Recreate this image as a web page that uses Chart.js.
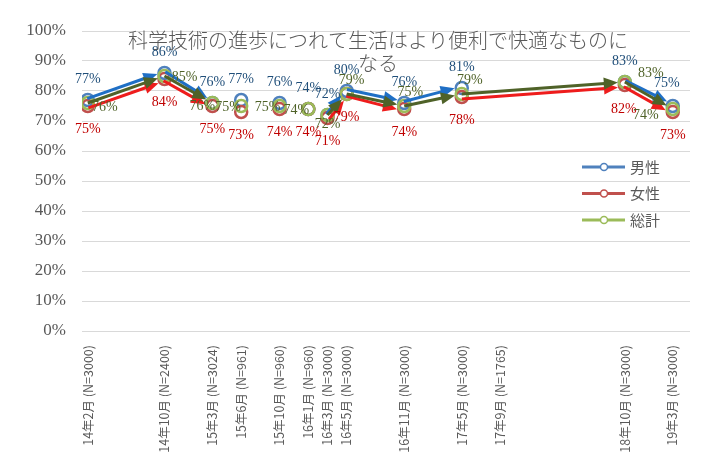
<!DOCTYPE html>
<html>
<head>
<meta charset="utf-8">
<script src="https://cdn.jsdelivr.net/npm/chart.js@4.4.1/dist/chart.umd.min.js"></script>
<style>
html, body { margin: 0; background: #fff; }
#contenedor { width: 707px; height: 465px; }
</style>
</head>
<body>
<div id="contenedor"><canvas id="grafico"></canvas></div>
<script>
// datos
const titulo = ['科学技術の進歩につれて生活はより便利で快適なものに', 'なる'];
const encuestas = [[14,2],[14,10],[15,3],[15,6],[15,10],[16,1],[16,3],[16,5],[16,11],[17,5],[17,9],[18,10],[19,3]];
const muestras = [3000,2400,3024,961,960,960,3000,3000,3000,3000,1765,3000,3000];
const hombres = [77,86,76,77,76,74,72,80,76,81,null,83,75];
const mujeres = [75,84,75,73,74,74,71,79,74,78,null,82,73];
const total   = [76,85,76,75,75,74,72,79,75,79,null,83,74];
const nombres = ['男性','女性','総計'];
const ticksY = [0,10,20,30,40,50,60,70,80,90,100];

// tramos con flecha (indice del punto de salida)
const tramosHombres = [0,1,6,7,8,11];
const tramosMujeres = [0,1,6,7,9,11];
const tramosTotal = [0,1,6,7,8,9,11];

// eje x por meses desde la primera encuesta
const meses = encuestas.map(e => (e[0] - encuestas[0][0]) * 12 + (e[1] - encuestas[0][1]));
const etiquetas = encuestas.map((e, i) => `${e[0]}年${e[1]}月 (N=${muestras[i]})`);

const series = [
    {valores: hombres, tramos: tramosHombres, marca: '#4F81BD', flecha: '#1F6FC5', texto: '#1F4E79', lado: -1.5,
     desplaza: hombres.map((v, i) => i == 12 ? [-6, -23] : [0, -21])},
    {valores: mujeres, tramos: tramosMujeres, marca: '#C0504D', flecha: '#EE1C1C', texto: '#C00000', lado: 2,
     desplaza: mujeres.map((v, i) => i == 11 ? [-1, 24] : [0, 23])},
    {valores: total, tramos: tramosTotal, marca: '#9BBB59', flecha: '#4F6228', texto: '#4F6228', lado: 0,
     desplaza: [[17,4],[20,1],[-10,3],[-13,1],[-12,1],[-12,1],[0,9],[5,-14],[6,-14],[8,-14],[0,0],[26,-9],[-27,6]]}
];

function flecha(ctx, x0, y0, x1, y1, color, lado) {
    const ang = Math.atan2(y1 - y0, x1 - x0);
    const fin = Math.hypot(x1 - x0, y1 - y0) - 7;
    const cabeza = 14, ancho = 6;
    ctx.save();
    ctx.translate(x0, y0);
    ctx.rotate(ang);
    ctx.translate(0, lado);
    ctx.strokeStyle = color;
    ctx.fillStyle = color;
    ctx.lineWidth = 3;
    ctx.beginPath();
    ctx.moveTo(0, 0);
    ctx.lineTo(fin - cabeza + 1, 0);
    ctx.stroke();
    ctx.beginPath();
    ctx.moveTo(fin, 0);
    ctx.lineTo(fin - cabeza, -ancho);
    ctx.lineTo(fin - cabeza, ancho);
    ctx.closePath();
    ctx.fill();
    ctx.restore();
}

const dibujoExtra = {
    id: 'dibujoExtra',
    afterDatasetsDraw(chart) {
        const ctx = chart.ctx;
        // flechas
        series.forEach((s, d) => {
            const puntos = chart.getDatasetMeta(d).data;
            s.tramos.forEach(i => {
                let j = i + 1;
                while (s.valores[j] == null) j++;
                flecha(ctx, puntos[i].x, puntos[i].y, puntos[j].x, puntos[j].y, s.flecha, s.lado);
            });
        });
        // etiquetas de datos
        ctx.save();
        ctx.font = "14px 'Liberation Serif'";
        ctx.textAlign = 'center';
        ctx.textBaseline = 'middle';
        series.forEach((s, d) => {
            const puntos = chart.getDatasetMeta(d).data;
            s.valores.forEach((v, i) => {
                if (v == null) return;
                ctx.fillStyle = s.texto;
                ctx.fillText(v + '%', puntos[i].x + s.desplaza[i][0], puntos[i].y + s.desplaza[i][1]);
            });
        });
        ctx.restore();
    },
    afterDraw(chart) {
        const ctx = chart.ctx;
        ctx.save();
        // titulo
        ctx.fillStyle = '#595959';
        ctx.font = "300 20px 'Noto Sans CJK JP'";
        ctx.textAlign = 'center';
        ctx.textBaseline = 'middle';
        ctx.fillText(titulo[0], 378, 40);
        ctx.fillText(titulo[1], 378, 63);
        // leyenda
        ctx.font = "15px 'Noto Sans CJK JP'";
        ctx.textAlign = 'left';
        series.forEach((s, d) => {
            const y = 167 + d * 26.5;
            ctx.strokeStyle = s.marca;
            ctx.lineWidth = 3;
            ctx.beginPath();
            ctx.moveTo(582, y);
            ctx.lineTo(625, y);
            ctx.stroke();
            ctx.fillStyle = '#fff';
            ctx.lineWidth = 1.5;
            ctx.beginPath();
            ctx.arc(604, y, 3.5, 0, Math.PI * 2);
            ctx.fill();
            ctx.stroke();
            ctx.fillStyle = '#595959';
            ctx.fillText(nombres[d], 630, y);
        });
        ctx.restore();
    }
};

const grafico = new Chart(document.getElementById('grafico'), {
    type: 'line',
    data: {
        datasets: series.map((s, d) => ({
            label: nombres[d],
            data: s.valores.map((v, i) => ({x: meses[i], y: v})),
            showLine: false,
            pointStyle: 'circle',
            pointRadius: 6,
            pointBorderWidth: 2.5,
            pointBorderColor: s.marca,
            pointBackgroundColor: 'rgba(255,255,255,0)',
            order: 3 - d
        }))
    },
    options: {
        responsive: true,
        maintainAspectRatio: false,
        animation: false,
        layout: { padding: { top: 31, right: 17, left: 0, bottom: 0 } },
        plugins: { legend: { display: false }, tooltip: { enabled: false } },
        scales: {
            x: {
                type: 'linear',
                min: -0.6,
                max: 62.8,
                afterBuildTicks: scale => { scale.ticks = meses.map(m => ({value: m})); },
                afterFit: scale => { scale.height = 134; },
                grid: { display: false },
                border: { display: false },
                ticks: {
                    autoSkip: false,
                    minRotation: 90,
                    maxRotation: 90,
                    padding: 6,
                    color: '#595959',
                    font: { family: "'Noto Sans CJK JP'", size: 12.5 },
                    callback: (v, i) => etiquetas[i]
                }
            },
            y: {
                min: 0,
                max: 100,
                afterBuildTicks: scale => { scale.ticks = ticksY.map(v => ({value: v})); },
                afterFit: scale => { scale.width = 82; },
                grid: { color: '#d9d9d9', lineWidth: 1, drawTicks: false },
                border: { display: false },
                ticks: {
                    padding: 16,
                    color: '#595959',
                    font: { family: "'Liberation Serif'", size: 17 },
                    callback: v => v + '%'
                }
            }
        }
    },
    plugins: [dibujoExtra]
});
</script>
</body>
</html>
